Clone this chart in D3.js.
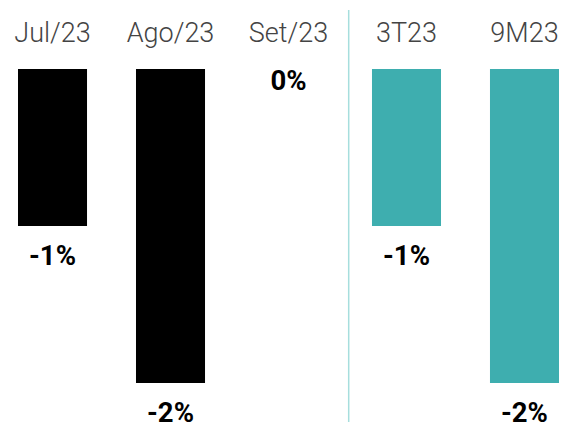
<!DOCTYPE html>
<html><head><meta charset="utf-8">
<script src="https://cdn.jsdelivr.net/npm/d3@7"></script>
<style>html,body{margin:0;padding:0;background:#fff;}svg{display:block;}</style>
</head><body>
<svg id="c" width="566" height="422"></svg>
<script>
const categories = ["Jul/23", "Ago/23", "Set/23", "3T23", "9M23"];
const values = [-1.0, -2.0, 0.0, -1.0, -2.0];
const valueLabels = ["-1%", "-2%", "0%", "-1%", "-2%"];
const groups = ["month", "month", "month", "period", "period"];

const colors = {month: "#000000", period: "#3eaeaf"};
const svg = d3.select("#c");

const x = d3.scaleBand().domain(categories).range([-6.5, 583.5])
  .paddingInner(0.415).paddingOuter(0.2076);
const y = d3.scaleLinear().domain([0, -2]).range([69, 383]);

svg.selectAll("rect.bar").data(categories).enter().append("rect")
  .attr("class", "bar")
  .attr("x", d => x(d))
  .attr("width", x.bandwidth())
  .attr("y", (d, i) => Math.min(y(0), y(values[i])))
  .attr("height", (d, i) => Math.abs(y(values[i]) - y(0)))
  .attr("fill", (d, i) => colors[groups[i]]);

svg.selectAll("text.cat").data(categories).enter().append("text")
  .attr("class", "cat")
  .attr("x", d => x(d) + x.bandwidth() / 2)
  .attr("y", 42)
  .attr("text-anchor", "middle")
  .style("font-family", "Roboto")
  .style("font-weight", 300)
  .style("font-size", "27px")
  .attr("fill", "#444")
  .text(d => d);

svg.selectAll("text.val").data(categories).enter().append("text")
  .attr("class", "val")
  .attr("x", d => x(d) + x.bandwidth() / 2)
  .attr("y", (d, i) => y(values[i]) + (values[i] === 0 ? 21 : 39))
  .attr("text-anchor", "middle")
  .style("font-family", "Roboto")
  .style("font-weight", 700)
  .style("font-size", "27.5px")
  .attr("fill", "#000")
  .text((d, i) => valueLabels[i]);

const sepX = (x("Set/23") + x.bandwidth() + x("3T23")) / 2 + 1.2;
svg.append("line")
  .attr("x1", sepX).attr("x2", sepX)
  .attr("y1", 10).attr("y2", 422)
  .attr("stroke", "#a6dedd").attr("stroke-width", 1.5);
</script>
</body></html>
